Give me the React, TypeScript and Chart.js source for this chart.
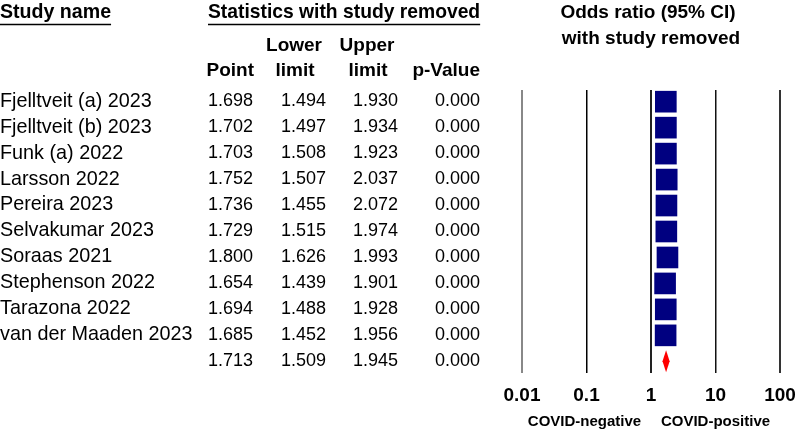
import React, { useEffect, useRef } from 'react';
import { Chart, registerables } from 'chart.js';

Chart.register(...registerables);

const studies = [
  'Fjelltveit (a) 2023',
  'Fjelltveit (b) 2023',
  'Funk (a) 2022',
  'Larsson 2022',
  'Pereira 2023',
  'Selvakumar 2023',
  'Soraas 2021',
  'Stephenson 2022',
  'Tarazona 2022',
  'van der Maaden 2023',
];
const pointEst = [1.698, 1.702, 1.703, 1.752, 1.736, 1.729, 1.8, 1.654, 1.694, 1.685];
const lowerLimit = [1.494, 1.497, 1.508, 1.507, 1.455, 1.515, 1.626, 1.439, 1.488, 1.452];
const upperLimit = [1.93, 1.934, 1.923, 2.037, 2.072, 1.974, 1.993, 1.901, 1.928, 1.956];
const pValues = [0, 0, 0, 0, 0, 0, 0, 0, 0, 0];
const summaryPoint = 1.713;
const summaryLower = 1.509;
const summaryUpper = 1.945;
const summaryP = 0.0;
const xTicks = [0.01, 0.1, 1, 10, 100];
const xTickLabels = ['0.01', '0.1', '1', '10', '100'];
const favoursLabels = ['COVID-negative', 'COVID-positive'];

const FONT = "'Liberation Sans', Arial, Helvetica, sans-serif";
const NAVY = '#000080';

const tablePlugin = {
  id: 'forestTable',
  beforeDatasetsDraw(chart: any) {
    const ctx = chart.ctx;
    const x = chart.scales.x;
    const y = chart.scales.y;
    ctx.save();
    ctx.strokeStyle = '#000';
    ctx.lineWidth = 1;
    for (let i = 0; i < pointEst.length; i++) {
      const py = y.getPixelForValue(i);
      ctx.beginPath();
      ctx.moveTo(x.getPixelForValue(lowerLimit[i]), py);
      ctx.lineTo(x.getPixelForValue(upperLimit[i]), py);
      ctx.stroke();
    }
    ctx.restore();
  },
  afterDraw(chart: any) {
    const ctx = chart.ctx;
    const x = chart.scales.x;
    const y = chart.scales.y;
    ctx.save();
    ctx.fillStyle = '#000';
    ctx.strokeStyle = '#000';

    // header
    ctx.font = `bold 19.6px ${FONT}`;
    ctx.textBaseline = 'middle';
    ctx.textAlign = 'left';
    ctx.fillText('Study name', 0, 13);
    const w1 = ctx.measureText('Study name').width;
    ctx.font = `bold 19.3px ${FONT}`;
    ctx.fillText('Statistics with study removed', 208, 13);
    const w2 = ctx.measureText('Statistics with study removed').width;
    ctx.lineWidth = 1.5;
    ctx.beginPath();
    ctx.moveTo(0, 24.5);
    ctx.lineTo(w1, 24.5);
    ctx.moveTo(208, 24.5);
    ctx.lineTo(208 + w2, 24.5);
    ctx.stroke();

    ctx.font = `bold 19px ${FONT}`;
    ctx.textAlign = 'center';
    ctx.fillText('Lower', 294, 46);
    ctx.fillText('Upper', 367, 46);
    ctx.fillText('limit', 295, 71);
    ctx.fillText('limit', 368, 71);
    ctx.textAlign = 'right';
    ctx.fillText('Point', 254, 71);
    ctx.fillText('p-Value', 480, 71);

    ctx.textAlign = 'center';
    ctx.fillText('Odds ratio (95% CI)', 648, 13);
    ctx.fillText('with study removed', 651, 39);

    // rows
    const rowY = (i: number) => y.getPixelForValue(i) - 0.5;
    for (let i = 0; i < studies.length; i++) {
      const py = rowY(i);
      ctx.font = `19.8px ${FONT}`;
      ctx.textAlign = 'left';
      ctx.fillText(studies[i], 0, py);
      ctx.font = `18px ${FONT}`;
      ctx.textAlign = 'right';
      ctx.fillText(pointEst[i].toFixed(3), 253, py);
      ctx.fillText(lowerLimit[i].toFixed(3), 326, py);
      ctx.fillText(upperLimit[i].toFixed(3), 398, py);
      ctx.fillText(pValues[i].toFixed(3), 480, py);
    }
    const sy = rowY(studies.length);
    ctx.font = `18px ${FONT}`;
    ctx.textAlign = 'right';
    ctx.fillText(summaryPoint.toFixed(3), 253, sy);
    ctx.fillText(summaryLower.toFixed(3), 326, sy);
    ctx.fillText(summaryUpper.toFixed(3), 398, sy);
    ctx.fillText(summaryP.toFixed(3), 480, sy);

    // diamond
    const dy = y.getPixelForValue(studies.length);
    const xl = x.getPixelForValue(summaryLower);
    const xr = x.getPixelForValue(summaryUpper);
    const xc = x.getPixelForValue(summaryPoint);
    ctx.fillStyle = '#ff0000';
    ctx.beginPath();
    ctx.moveTo(xl, dy);
    ctx.lineTo(xc, dy - 11);
    ctx.lineTo(xr, dy);
    ctx.lineTo(xc, dy + 11);
    ctx.closePath();
    ctx.fill();

    // favours labels
    ctx.fillStyle = '#000';
    ctx.font = `bold 15px ${FONT}`;
    ctx.textAlign = 'center';
    ctx.fillText(favoursLabels[0], x.getPixelForValue(0.1) - 2, 422);
    ctx.fillText(favoursLabels[1], x.getPixelForValue(10), 422);
    ctx.restore();
  },
};

const gridColors = ['#888888', '#000000', '#222222', '#111111', '#333333'];
const gridWidths = [2, 1.5, 2, 1.5, 2];

export default function App() {
  const ref = useRef<HTMLCanvasElement | null>(null);
  useEffect(() => {
    document.body.style.margin = '0';
    const canvas = ref.current!;
    const chart = new Chart(canvas, {
      type: 'scatter',
      data: {
        datasets: [
          {
            data: pointEst.map((v, i) => ({ x: v, y: i })),
            pointStyle: 'rect',
            pointRadius: 15.3,
            pointHoverRadius: 15.3,
            backgroundColor: NAVY,
            borderColor: NAVY,
            borderWidth: 0,
          },
        ],
      },
      options: {
        responsive: false,
        animation: false,
        devicePixelRatio: 1,
        events: [],
        layout: { padding: { left: 522, right: 17, top: 90, bottom: 0 } },
        plugins: { legend: { display: false }, tooltip: { enabled: false } },
        scales: {
          x: {
            type: 'logarithmic',
            min: 0.01,
            max: 100,
            position: 'bottom',
            afterBuildTicks: (scale: any) => {
              scale.ticks = xTicks.map((v) => ({ value: v }));
            },
            afterFit: (scale: any) => {
              scale.height = 60;
              scale.paddingLeft = 0;
              scale.paddingRight = 0;
            },
            border: { display: false },
            grid: {
              drawTicks: false,
              color: (c: any) => gridColors[c.index] ?? '#000',
              lineWidth: (c: any) => gridWidths[c.index] ?? 1,
            },
            ticks: {
              autoSkip: false,
              maxRotation: 0,
              padding: 11,
              color: '#000',
              font: { family: FONT, size: 19, weight: 'bold' },
              callback: (v: any, i: number) => xTickLabels[i],
            },
          },
          y: {
            type: 'linear',
            min: -0.45,
            max: 10.45,
            reverse: true,
            display: false,
          },
        },
      },
      plugins: [tablePlugin],
    } as any);
    return () => chart.destroy();
  }, []);
  return (
    <div style={{ position: 'absolute', left: 0, top: 0, width: 797, height: 433, background: '#fff' }}>
      <canvas ref={ref} width={797} height={433} style={{ display: 'block' }} />
    </div>
  );
}
